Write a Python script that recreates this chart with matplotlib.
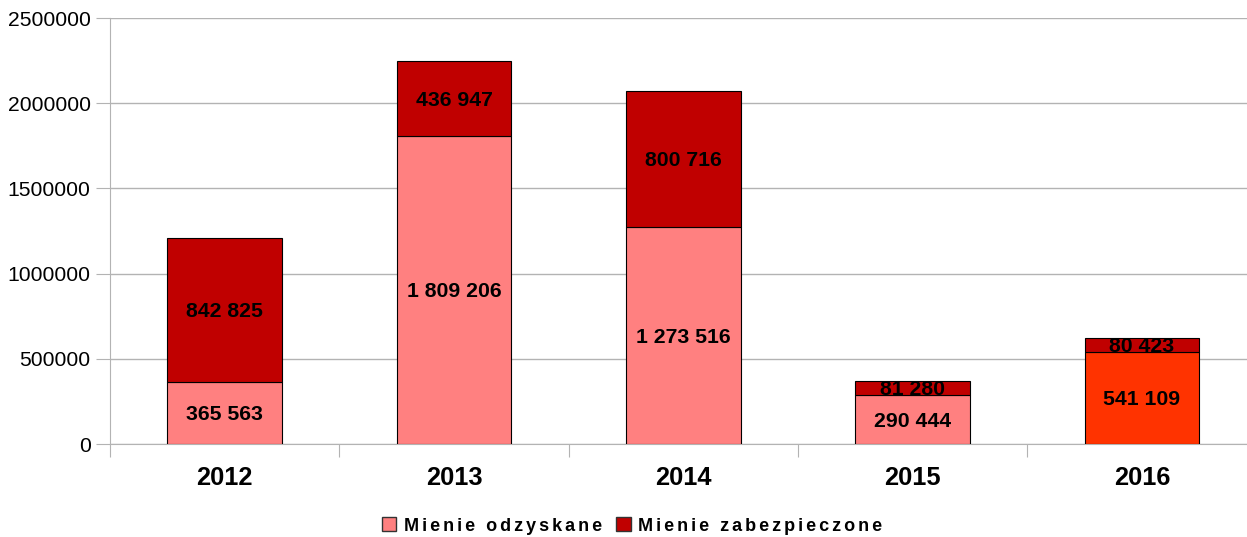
import matplotlib.pyplot as plt
from matplotlib.patches import Patch

plt.rcParams['font.family'] = ['Liberation Sans', 'DejaVu Sans']

years = ["2012", "2013", "2014", "2015", "2016"]
odzyskane = [365563, 1809206, 1273516, 290444, 541109]
zabezpieczone = [842825, 436947, 800716, 81280, 80423]

light = "#ff8080"
dark = "#c00000"
bottom_colors = [light, light, light, light, "#ff3300"]


def fmt(v):
    return f"{v:,}".replace(",", " ")


def spaced(s):
    # the legend text in the original has wide letter spacing
    return "\u2006".join(s)


fig = plt.figure(figsize=(12.47, 5.37), dpi=100)
ax = fig.add_axes([110 / 1247, 1 - 444 / 537, 1137 / 1247, (444 - 18) / 537])

x = range(len(years))
ax.bar(x, odzyskane, width=0.5, color=bottom_colors, edgecolor="black", linewidth=0.8, zorder=3)
ax.bar(x, zabezpieczone, width=0.5, bottom=odzyskane, color=dark, edgecolor="black", linewidth=0.8, zorder=3)

for i in x:
    ax.text(i, odzyskane[i] / 2, fmt(odzyskane[i]), ha="center", va="center_baseline",
            fontsize=15.3, fontweight="bold", zorder=4)
    ax.text(i, odzyskane[i] + zabezpieczone[i] / 2, fmt(zabezpieczone[i]), ha="center",
            va="center_baseline", fontsize=15.3, fontweight="bold", zorder=4)

ax.set_yticks(range(0, 2500001, 500000))
ax.set_yticklabels([str(v) for v in range(0, 2500001, 500000)], fontsize=15.2)
ax.yaxis.grid(True, color="#b3b3b3", linewidth=1, zorder=0)

ax.set_xticks([i - 0.5 for i in range(len(years))], minor=False)
ax.set_xticklabels([])
ax.set_xticks(list(x), minor=True)
ax.set_xticklabels(years, minor=True, fontsize=18.3, fontweight="bold")
ax.tick_params(axis="x", which="minor", length=0, pad=16)
ax.tick_params(axis="x", which="major", length=9, color="#b3b3b3")
ax.tick_params(axis="y", length=10, color="#b3b3b3", pad=4)

# limits set after the ticks, so set_xticks cannot widen them
ax.set_ylim(0, 2500000)
ax.set_xlim(-0.5, -0.5 + 1137 / 229.3)

for s in ["top", "right"]:
    ax.spines[s].set_visible(False)
ax.spines["left"].set_color("#b3b3b3")
ax.spines["bottom"].set_color("#b3b3b3")

handles = [Patch(facecolor=light, edgecolor="#333333", label=spaced("Mienie odzyskane")),
           Patch(facecolor=dark, edgecolor="#333333", label=spaced("Mienie zabezpieczone"))]
fig.legend(handles=handles, loc="center", bbox_to_anchor=(632 / 1247, 1 - 526 / 537), ncol=2,
           frameon=False, prop={"weight": "bold", "size": 13}, handlelength=0.8, handleheight=0.8,
           handletextpad=0.4, columnspacing=0.8)

fig.savefig("out.png", dpi=100)
